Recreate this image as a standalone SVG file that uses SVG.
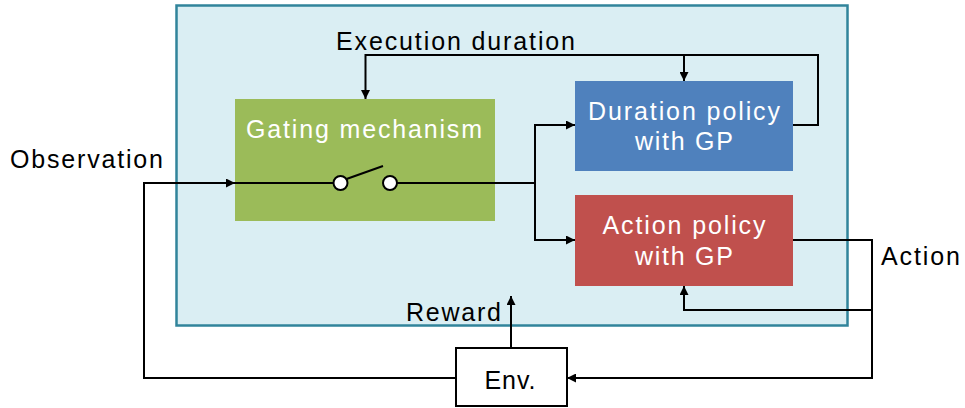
<svg xmlns="http://www.w3.org/2000/svg" width="965" height="408" viewBox="0 0 965 408">
<style>
.t{font-family:"Liberation Sans",Arial,sans-serif;font-size:25px;fill:#000}
.w{fill:#fff}
.ln{fill:none;stroke:#000;stroke-width:2}
</style>
<defs>
<marker id="ah" viewBox="0 0 10 10" refX="10" refY="5" markerWidth="9" markerHeight="9" markerUnits="userSpaceOnUse" orient="auto">
<path d="M0,0 L10,5 L0,10 z" fill="#000"/>
</marker>
</defs>
<rect width="965" height="408" fill="#fff"/>
<g id="agent">
<rect x="176.5" y="5.5" width="671" height="320" fill="#DAEEF3" stroke="#31849B" stroke-width="2.5"/>
</g>
<g id="gating">
<rect x="235" y="99" width="260" height="122" fill="#9BBB59"/>
<text class="t w" x="364" y="138" text-anchor="middle" textLength="236" lengthAdjust="spacing">Gating mechanism</text>
</g>
<g id="duration">
<rect x="575" y="81" width="218" height="90" fill="#4F81BD"/>
<text class="t w" x="684" y="120" text-anchor="middle" textLength="192" lengthAdjust="spacing">Duration policy</text>
<text class="t w" x="684" y="150" text-anchor="middle" textLength="98" lengthAdjust="spacing">with GP</text>
</g>
<g id="action">
<rect x="575" y="195" width="218" height="91" fill="#C0504D"/>
<text class="t w" x="684" y="234" text-anchor="middle" textLength="163" lengthAdjust="spacing">Action policy</text>
<text class="t w" x="684" y="265" text-anchor="middle" textLength="98" lengthAdjust="spacing">with GP</text>
</g>
<g id="env">
<rect x="456" y="348" width="111" height="58" fill="#fff" stroke="#000" stroke-width="2"/>
<text class="t" x="510" y="389" text-anchor="middle" textLength="51" lengthAdjust="spacing">Env.</text>
</g>
<g id="connectors">
<path class="ln" d="M456,378 H144 V183 H235" marker-end="url(#ah)"/>
<path class="ln" d="M235,183 H333"/>
<path class="ln" d="M397,183 H535"/>
<circle cx="340.5" cy="183" r="7" fill="#fff" stroke="#000" stroke-width="2"/>
<circle cx="390" cy="183" r="7" fill="#fff" stroke="#000" stroke-width="2"/>
<path class="ln" d="M346.5,179 L383,166" stroke-width="2.2"/>
<path class="ln" d="M535,183 V125 H575" marker-end="url(#ah)"/>
<path class="ln" d="M535,183 V240 H575" marker-end="url(#ah)"/>
<path class="ln" d="M793,125 H818 V55 H365.5 V99" marker-end="url(#ah)"/>
<path class="ln" d="M684,55 V81" marker-end="url(#ah)"/>
<path class="ln" d="M793,240 H872 V378 H567" marker-end="url(#ah)"/>
<path class="ln" d="M872,310 H684 V286" marker-end="url(#ah)"/>
<path class="ln" d="M511,348 V296" marker-end="url(#ah)"/>
</g>
<g id="labels">
<text class="t" x="336" y="50" textLength="239" lengthAdjust="spacing">Execution duration</text>
<text class="t" x="10" y="168" textLength="153" lengthAdjust="spacing">Observation</text>
<text class="t" x="881" y="265" textLength="79" lengthAdjust="spacing">Action</text>
<text class="t" x="406" y="321" textLength="95" lengthAdjust="spacing">Reward</text>
</g>
</svg>
